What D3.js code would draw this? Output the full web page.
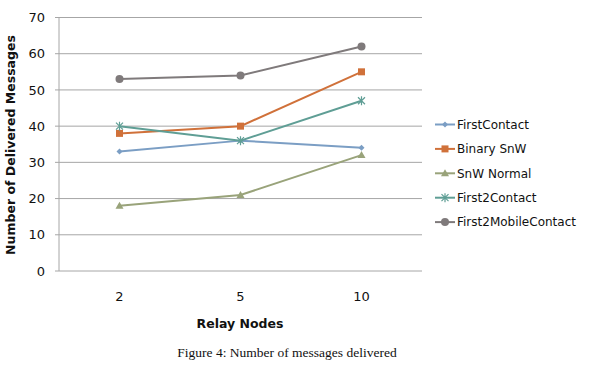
<!DOCTYPE html>
<html>
<head>
<meta charset="utf-8">
<script src="https://cdn.jsdelivr.net/npm/d3@7"></script>
<style>
  body { margin: 0; background: #fff; }
  svg text { font-family: "DejaVu Sans", sans-serif; fill: #111; }
</style>
</head>
<body>
<div id="container"></div>
<script>
// DATA
const categories = ['2', '5', '10']
const seriesNames = ['FirstContact', 'Binary SnW', 'SnW Normal', 'First2Contact', 'First2MobileContact']
const firstContact = [33, 36, 34]
const binarySnW = [38, 40, 55]
const snwNormal = [18, 21, 32]
const first2Contact = [40, 36, 47]
const first2MobileContact = [53, 54, 62]
const yTicks = [0, 10, 20, 30, 40, 50, 60, 70]

const seriesValues = [firstContact, binarySnW, snwNormal, first2Contact, first2MobileContact]
const colors = ['#7b9ec4', '#d0713a', '#99a37a', '#5f9e95', '#7f7a7b']
const symbols = ['diamond', 'square', 'triangle', 'star', 'circle']

//BOX
const w = 600
const h = 373
const plotLeft = 59, plotRight = 422, plotTop = 17.5, plotBottom = 271

const xscale = d3.scalePoint().domain(categories).range([plotLeft, plotRight]).padding(0.5)
const yscale = d3.scaleLinear().domain([0, 70]).range([plotBottom, plotTop])

const svg = d3.select('#container').append('svg')
    .attr('width', w).attr('height', h)

//GRID
svg.append('g').selectAll('line').data(yTicks).enter().append('line')
    .attr('x1', plotLeft - 4).attr('x2', plotRight)
    .attr('y1', d => yscale(d)).attr('y2', d => yscale(d))
    .attr('stroke', '#a6a6a6').attr('stroke-width', 1)

svg.append('line')
    .attr('x1', plotLeft).attr('x2', plotLeft).attr('y1', plotTop).attr('y2', plotBottom)
    .attr('stroke', '#a6a6a6')

//Y LABELS
svg.append('g').selectAll('text').data(yTicks).enter().append('text')
    .attr('x', 45).attr('y', d => yscale(d)).attr('dy', '0.36em')
    .attr('text-anchor', 'end').style('font-size', '13px')
    .text(d => d)

//X LABELS
svg.append('g').selectAll('text').data(categories).enter().append('text')
    .attr('x', d => xscale(d)).attr('y', 296).attr('dy', '0.36em')
    .attr('text-anchor', 'middle').style('font-size', '13px')
    .text(d => d)

//TITLES
svg.append('text')
    .attr('x', 240).attr('y', 323).attr('dy', '0.36em')
    .attr('text-anchor', 'middle').style('font-size', '12.5px').style('font-weight', 'bold')
    .text('Relay Nodes')

svg.append('text')
    .attr('transform', 'translate(10,145) rotate(-90)').attr('dy', '0.36em')
    .attr('text-anchor', 'middle').style('font-size', '12.5px').style('font-weight', 'bold')
    .text('Number of Delivered Messages')

svg.append('text')
    .attr('x', 287).attr('y', 352).attr('dy', '0.36em')
    .attr('text-anchor', 'middle')
    .style('font-family', '"Liberation Serif", serif').style('font-size', '13.5px')
    .text('Figure 4: Number of messages delivered')

function drawMarker(g, type, color) {
    if (type === 'circle') {
        g.append('circle').attr('r', 4).attr('fill', color)
    } else if (type === 'square') {
        g.append('rect').attr('x', -3.5).attr('y', -3.5).attr('width', 7).attr('height', 7).attr('fill', color)
    } else if (type === 'diamond') {
        g.append('path').attr('d', 'M0,-3L3,0L0,3L-3,0Z').attr('fill', color)
    } else if (type === 'triangle') {
        g.append('path').attr('d', 'M0,-4L4,3L-4,3Z').attr('fill', color)
    } else {
        g.append('path').attr('d', 'M-3.5,-3.5L3.5,3.5M-3.5,3.5L3.5,-3.5M0,-4.5L0,4.5')
            .attr('stroke', color).attr('stroke-width', 1.2).attr('fill', 'none')
    }
}

//LINES
const line = d3.line().x((d, i) => xscale(categories[i])).y(d => yscale(d))
seriesValues.forEach((vals, s) => {
    svg.append('path').datum(vals)
        .attr('d', line).attr('fill', 'none')
        .attr('stroke', colors[s]).attr('stroke-width', 2)
    vals.forEach((v, i) => {
        const g = svg.append('g')
            .attr('transform', 'translate(' + xscale(categories[i]) + ',' + yscale(v) + ')')
        drawMarker(g, symbols[s], colors[s])
    })
})

//LEGEND
const legend = svg.append('g')
seriesNames.forEach((name, s) => {
    const y = 124.5 + s * 24.4
    legend.append('line').attr('x1', 435).attr('x2', 455).attr('y1', y).attr('y2', y)
        .attr('stroke', colors[s]).attr('stroke-width', 2)
    drawMarker(legend.append('g').attr('transform', 'translate(445,' + y + ')'), symbols[s], colors[s])
    legend.append('text').attr('x', 457).attr('y', y).attr('dy', '0.36em')
        .style('font-size', '12px').text(name)
})
</script>
</body>
</html>
